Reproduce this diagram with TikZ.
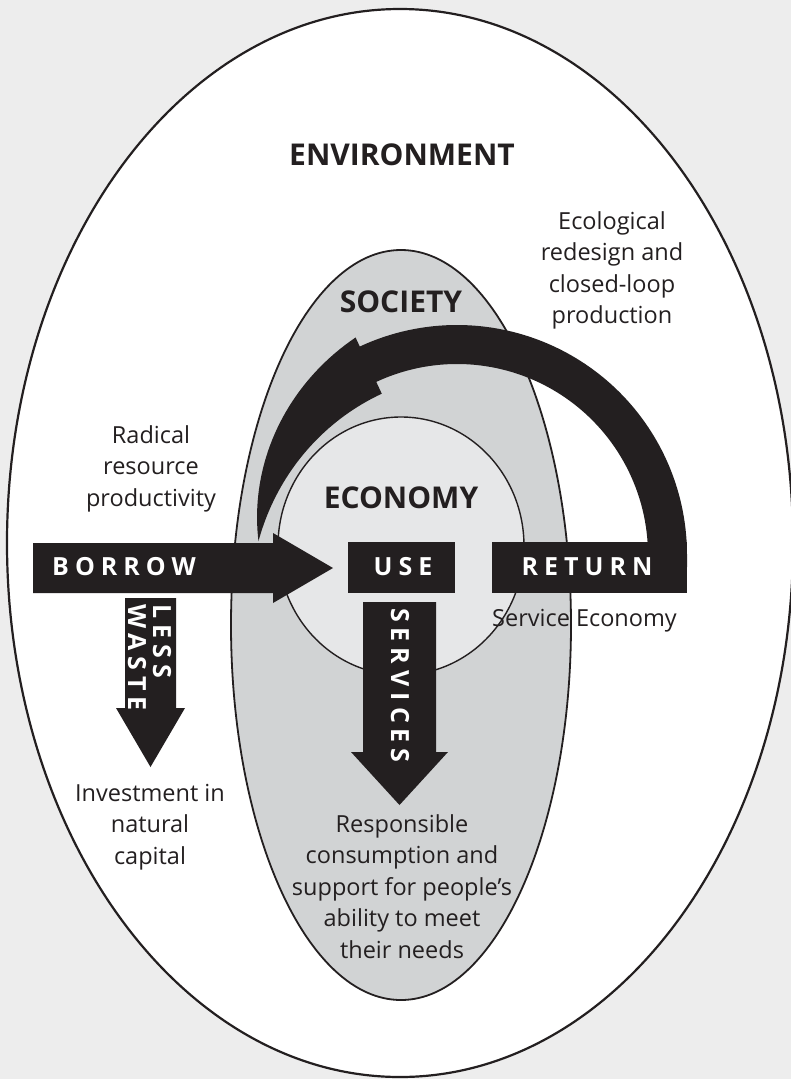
\documentclass[tikz,border=0pt]{standalone}
\usepackage{fontspec}
\setmainfont{Open Sans}
\newfontfamily\trackedfont{Open Sans}[LetterSpace=24]
\usepackage{tikz}
\usetikzlibrary{calc}
\definecolor{Ink}{HTML}{231F20}
\definecolor{PageGrey}{HTML}{EDEDED}
\definecolor{SocFill}{HTML}{D1D3D4}
\definecolor{EconFill}{HTML}{E6E7E8}

\begin{document}
\begin{tikzpicture}[x=1pt, y=-1pt,
    every node/.style={text=Ink, inner sep=0pt},
    body/.style={font=\fontsize{23.5}{31.5}\selectfont, align=center, anchor=north},
    heading/.style={font=\fontsize{30}{36}\selectfont\bfseries, anchor=base},
    tag/.style={font=\trackedfont\bfseries\fontsize{25}{25}\selectfont, text=white}]
  \useasboundingbox (0,0) rectangle (791,1079);
  \fill[PageGrey] (0,0) rectangle (791,1079);
  % nested spheres
  \draw[Ink, line width=2.2pt, fill=white] (400,543) ellipse [x radius=393, y radius=534];
  \draw[Ink, line width=1.8pt, fill=SocFill] (401,625) ellipse [x radius=170, y radius=375];
  \draw[Ink, line width=1.4pt, fill=EconFill] (401,546) ellipse [x radius=123, y radius=129];
  % closed loop: from RETURN back round to BORROW
  \begin{scope}[shift={(457,555)}, yscale=-1]
    \fill[Ink] (230,-12) -- (0:230) arc[start angle=0, end angle=115, radius=230]
      -- (115:240)
      -- plot[domain=115:176, samples=40] ({\x}:{240-41*(\x-115)/61})
      -- plot[domain=176:115, samples=40] ({\x}:{178+21*((\x-115)/61)^2})
      -- (115:191) arc[start angle=115, end angle=0, radius=191]
      -- (191,-12) -- cycle;
  \end{scope}
  % borrow -> use, and the two boxes
  \fill[Ink] (33,543) -- (273,543) -- (273,533) -- (333,568) -- (273,603)
    -- (273,593) -- (33,593) -- cycle;
  \fill[Ink] (348,542) rectangle (455,593);
  \fill[Ink] (492,542) rectangle (687,593);
  % downward arrows
  \fill[Ink] (125,598) -- (176,598) -- (176,708) -- (185,708) -- (150.5,767)
    -- (116,708) -- (125,708) -- cycle;
  \fill[Ink] (363,602) -- (436,602) -- (436,752) -- (448,752) -- (399.5,805)
    -- (351,752) -- (363,752) -- cycle;
  % arrow labels
  \node[tag, anchor=base west] (borrow) at (52,575) {BORROW};
  \node[tag, anchor=base] (use) at (403,575) {USE};
  \node[tag, anchor=base] (return) at (587,575) {RETURN};
  \node[tag, rotate=-90, anchor=base west] (less) at (153,604) {LESS};
  \node[tag, rotate=-90, anchor=base west] (waste) at (128,604) {WASTE};
  \node[tag, rotate=-90, anchor=base west] (services) at (391,608) {SERVICES};
  % sphere names
  \node[heading] (env) at (402,165) {ENVIRONMENT};
  \node[heading] (soc) at (401,312) {SOCIETY};
  \node[heading] (econ) at (401,508) {ECONOMY};
  % strategy notes
  \node[body] (redesign) at (612,207) {\strut Ecological\\redesign and\\closed-loop\\production};
  \node[body] (radical) at (151,421) {\strut Radical\\resource\\productivity};
  \node[body] (invest) at (150,779) {\strut Investment in\\natural\\capital};
  \node[body] (needs) at (402,810) {\strut Responsible\\consumption and\\support for people's\\ability to meet\\their needs};
  \node[body, anchor=base west] (svceco) at (492,626) {Service Economy};
\end{tikzpicture}
\end{document}
